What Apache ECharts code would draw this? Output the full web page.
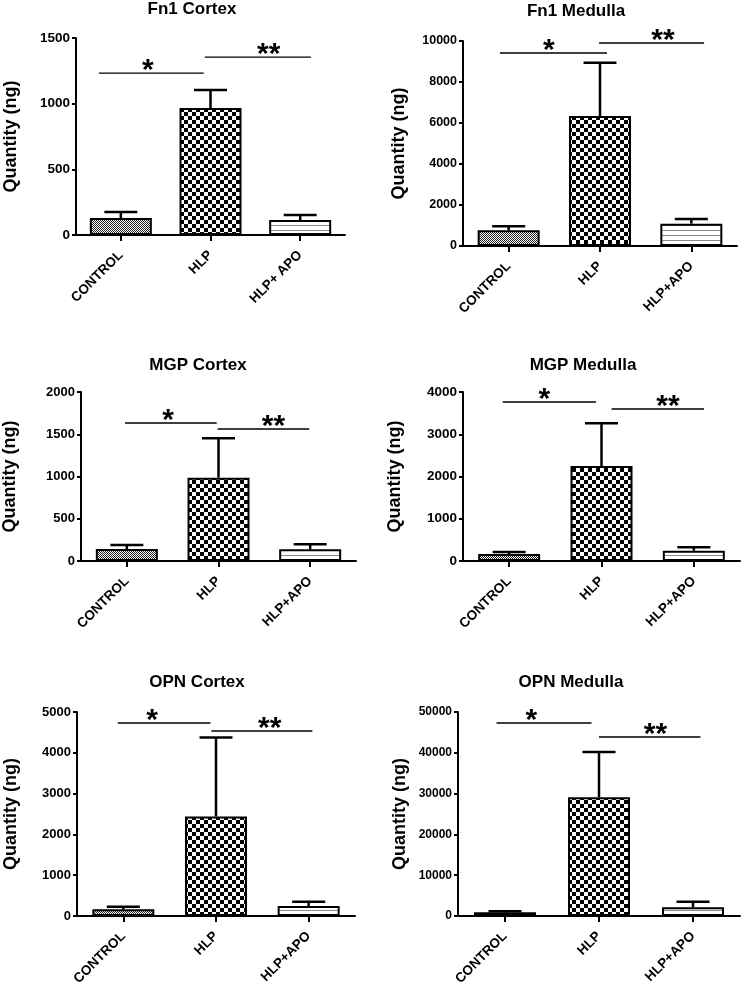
<!DOCTYPE html>
<html><head><meta charset="utf-8">
<script src="https://cdn.jsdelivr.net/npm/echarts@6/dist/echarts.min.js"></script>
<style>html,body{margin:0;padding:0;background:#fff}#c{width:742px;height:989px}</style>
</head><body><div id="c"></div>
<script>
// ---------- data ----------
const categoriesFn1Cortex = ['CONTROL', 'HLP', 'HLP+ APO'];
const categories = ['CONTROL', 'HLP', 'HLP+APO'];
const panelTitles = ['Fn1 Cortex', 'Fn1 Medulla', 'MGP Cortex', 'MGP Medulla', 'OPN Cortex', 'OPN Medulla'];
const yAxisTitle = 'Quantity (ng)';

const fn1CortexMean = [129, 967, 114];
const fn1CortexUpper = [175, 1104, 152];
const fn1MedullaMean = [764, 6341, 1089];
const fn1MedullaUpper = [959, 8943, 1317];
const mgpCortexMean = [142, 986, 138];
const mgpCortexUpper = [189, 1452, 197];
const mgpMedullaMean = [166, 2249, 245];
const mgpMedullaUpper = [213, 3258, 323];
const opnCortexMean = [164, 2439, 245];
const opnCortexUpper = [229, 4378, 352];
const opnMedullaMean = [900, 29133, 2128];
const opnMedullaUpper = [1146, 40180, 3519];

const yMaxes = [1500, 10000, 2000, 4000, 5000, 50000];
const yIntervals = [500, 2000, 500, 1000, 1000, 10000];

// significance brackets: [y value, start, end, star position] (x in category units from CONTROL)
const sigSingle = [
  [1233, -0.245, 0.925, 0.30],
  [9415, -0.095, 1.077, 0.44],
  [1633, -0.02, 0.98, 0.45],
  [3763, -0.07, 0.94, 0.38],
  [4730, -0.06, 0.94, 0.31],
  [47304, -0.09, 0.92, 0.28]
];
const sigDouble = [
  [1355, 0.936, 2.12, 1.65],
  [9902, 0.99, 2.14, 1.69],
  [1562, 0.99, 1.99, 1.60],
  [3598, 1.11, 2.11, 1.72],
  [4534, 0.95, 2.04, 1.58],
  [43873, 1.0, 2.08, 1.60]
];

const panelMeans = [fn1CortexMean, fn1MedullaMean, mgpCortexMean, mgpMedullaMean, opnCortexMean, opnMedullaMean];
const panelUppers = [fn1CortexUpper, fn1MedullaUpper, mgpCortexUpper, mgpMedullaUpper, opnCortexUpper, opnMedullaUpper];
const panelCats = [categoriesFn1Cortex, categories, categories, categories, categories, categories];

// ---------- layout / style ----------
const grids = [
  {left: 76, top: 38, width: 269, height: 197},
  {left: 463, top: 41, width: 274, height: 205},
  {left: 79, top: 392, width: 277, height: 169},
  {left: 463, top: 392, width: 277, height: 169},
  {left: 77, top: 712, width: 278, height: 204},
  {left: 458, top: 712, width: 282, height: 204}
];
const titlePos = [[192, 9], [576, 11], [198, 365], [583, 365], [197, 682], [571, 682]];
const nameGaps = [56, 55, 62, 59, 57, 49];
const yLabelSizes = [13.5, 12.5, 13, 13.5, 13, 12];
const FONT = '"Liberation Sans", Arial, sans-serif';

function makeCanvas(w, h, draw) {
  const c = document.createElement('canvas');
  c.width = w; c.height = h;
  draw(c.getContext('2d'));
  return c;
}
const fineChecker = makeCanvas(2, 2, ctx => {
  ctx.fillStyle = '#fff'; ctx.fillRect(0, 0, 2, 2);
  ctx.fillStyle = '#222'; ctx.fillRect(0, 0, 1, 1); ctx.fillRect(1, 1, 1, 1);
});
const coarseChecker = makeCanvas(8, 8, ctx => {
  ctx.fillStyle = '#fff'; ctx.fillRect(0, 0, 8, 8);
  ctx.fillStyle = '#000'; ctx.fillRect(0, 0, 4, 4); ctx.fillRect(4, 4, 4, 4);
});
const hLines = makeCanvas(4, 5, ctx => {
  ctx.fillStyle = '#fff'; ctx.fillRect(0, 0, 4, 5);
  ctx.fillStyle = '#8a8a8a'; ctx.fillRect(0, 0, 4, 1);
});
const patterns = [fineChecker, coarseChecker, hLines];

const option = {
  backgroundColor: '#fff',
  animation: false,
  grid: [], xAxis: [], yAxis: [], series: [],
  graphic: []
};

for (let p = 0; p < 6; p++) {
  option.grid.push(Object.assign({containLabel: false}, grids[p]));
  option.xAxis.push({
    type: 'category', gridIndex: p, data: panelCats[p],
    axisLine: {lineStyle: {color: '#000', width: 2}},
    axisTick: {show: true, alignWithLabel: true, length: 6, lineStyle: {color: '#000', width: 2}},
    axisLabel: {rotate: 45, margin: 18, color: '#000', fontWeight: 'bold', fontSize: 13.5, fontFamily: FONT, interval: 0},
    splitLine: {show: false}
  });
  option.yAxis.push({
    type: 'value', gridIndex: p, min: 0, max: yMaxes[p], interval: yIntervals[p],
    name: yAxisTitle, nameLocation: 'middle', nameGap: nameGaps[p], nameRotate: 90,
    nameTextStyle: {color: '#000', fontWeight: 'bold', fontSize: 18, fontFamily: FONT},
    axisLine: {show: true, lineStyle: {color: '#000', width: 2}},
    axisTick: {show: true, length: 4, lineStyle: {color: '#000', width: 2}},
    axisLabel: {margin: 6, color: '#000', fontWeight: 'bold', fontSize: yLabelSizes[p], fontFamily: FONT,
      formatter: v => String(v)},
    splitLine: {show: false}
  });
  option.series.push({
    type: 'bar', xAxisIndex: p, yAxisIndex: p, barWidth: 62,
    data: panelMeans[p].map((v, i) => ({
      value: v,
      itemStyle: {color: {image: patterns[i], repeat: 'repeat'}, borderColor: '#000', borderWidth: 2}
    }))
  });
  option.series.push({
    type: 'custom', xAxisIndex: p, yAxisIndex: p, z: 3,
    encode: {x: 0, y: [1, 2]},
    data: panelMeans[p].map((m, i) => [i, m, panelUppers[p][i]]),
    renderItem: function (params, api) {
      const x = api.value(0), m = api.value(1), u = api.value(2);
      const p0 = api.coord([x, m]);
      const p1 = api.coord([x, u]);
      const half = 16.5;
      return {type: 'group', children: [
        {type: 'line', shape: {x1: p0[0], y1: p0[1], x2: p1[0], y2: p1[1]}, style: {stroke: '#000', lineWidth: 2.5}},
        {type: 'line', shape: {x1: p1[0] - half, y1: p1[1], x2: p1[0] + half, y2: p1[1]}, style: {stroke: '#000', lineWidth: 2.5}}
      ]};
    }
  });
  const stars = ['*', '**'];
  option.series.push({
    type: 'custom', xAxisIndex: p, yAxisIndex: p, z: 4,
    encode: {x: 0, y: 1},
    data: [sigSingle[p], sigDouble[p]].map(s => [0, s[0], s[1], s[2], s[3]]),
    renderItem: function (params, api) {
      const y = api.value(1);
      const f1 = api.value(2), f2 = api.value(3), fs = api.value(4);
      const base = api.coord([0, y]);
      const band = api.size([1, 0])[0];
      const x1 = base[0] + f1 * band, x2 = base[0] + f2 * band, xs = base[0] + fs * band;
      return {type: 'group', children: [
        {type: 'line', shape: {x1: x1, y1: base[1], x2: x2, y2: base[1]}, style: {stroke: '#000', lineWidth: 1.3}},
        {type: 'text', x: xs, y: base[1] + 13, style: {
          text: stars[params.dataIndex], fill: '#000',
          fontSize: 30, fontWeight: 'bold', fontFamily: FONT,
          textAlign: 'center', textVerticalAlign: 'bottom', align: 'center', verticalAlign: 'bottom'
        }}
      ]};
    }
  });
  option.graphic.push({
    type: 'text', x: titlePos[p][0], y: titlePos[p][1],
    style: {
      text: panelTitles[p], fill: '#000', fontSize: 17, fontWeight: 'bold', fontFamily: FONT,
      textAlign: 'center', textVerticalAlign: 'middle', align: 'center', verticalAlign: 'middle'
    }
  });
}

const chart = echarts.init(document.getElementById('c'), null, {renderer: 'canvas'});
chart.setOption(option);
</script>
</body></html>
